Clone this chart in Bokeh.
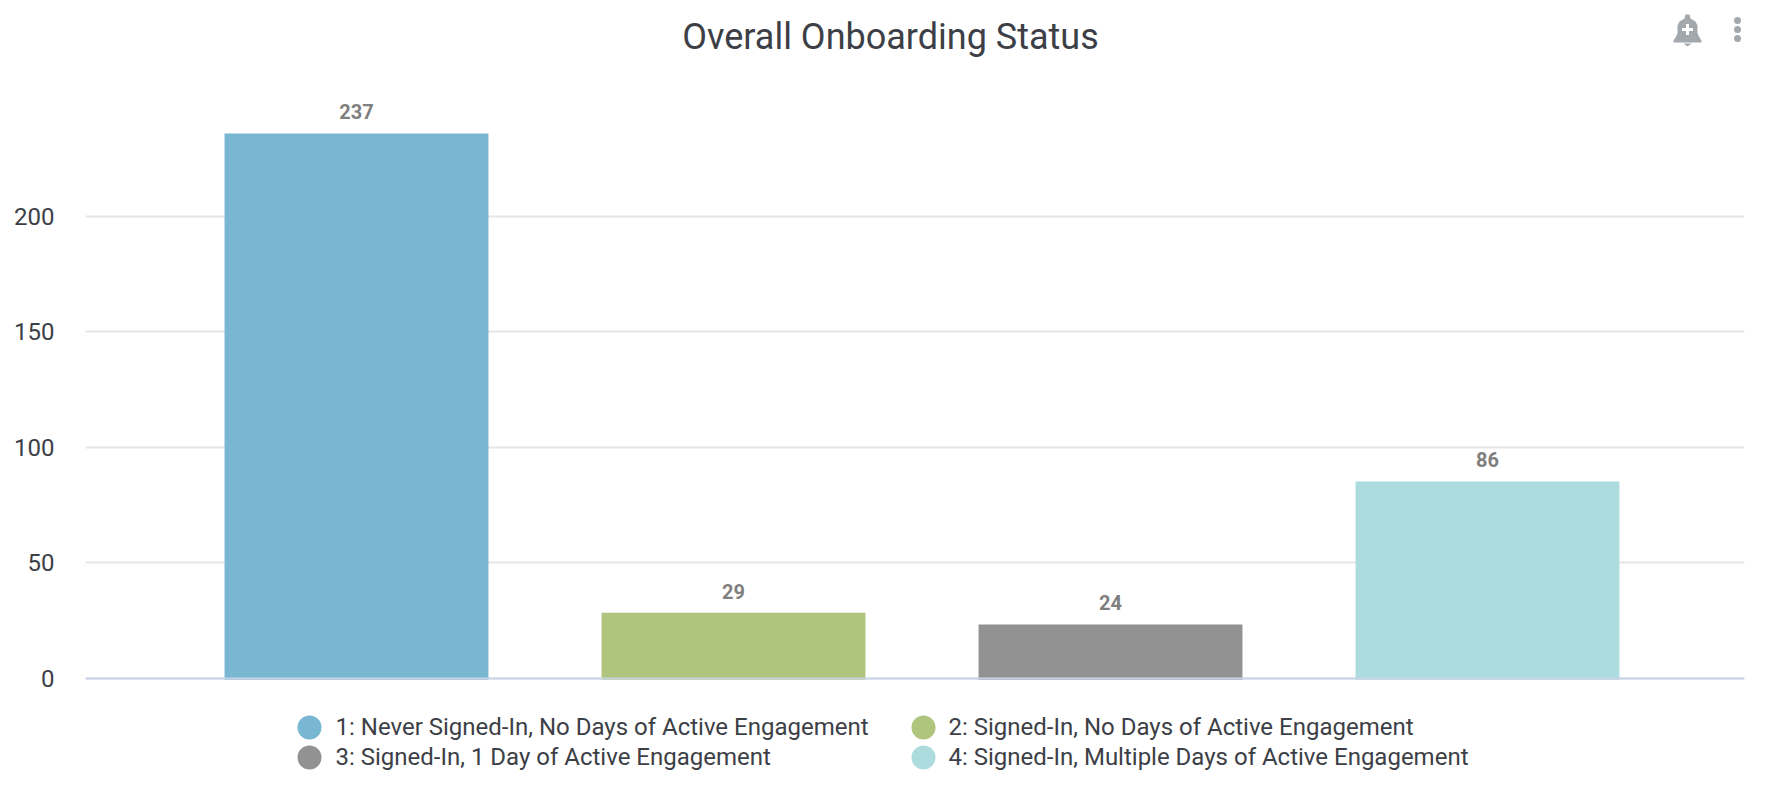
from bokeh.plotting import figure
from bokeh.embed import file_html
from bokeh.resources import INLINE
from bokeh.models import ColumnDataSource, Legend, LegendItem, Span, FixedTicker, Range1d, Label
from bokeh.core.properties import value

title = "Overall Onboarding Status"
categories = ["1: Never Signed-In, No Days of Active Engagement",
              "2: Signed-In, No Days of Active Engagement",
              "3: Signed-In, 1 Day of Active Engagement",
              "4: Signed-In, Multiple Days of Active Engagement"]
values = [237, 29, 24, 86]
colors = ["#78b6d1", "#afc47d", "#929292", "#addcdf"]
y_ticks = [0, 50, 100, 150, 200]
FONT = "Roboto"
TEXT = "#3c4046"
ICON = "#a3a8ad"

p = figure(width=1762, height=788, output_backend="svg", toolbar_location=None,
           x_range=Range1d(-0.7188, 3.6817), y_range=Range1d(-47.62, 293.5),
           frame_width=1659, frame_height=788, min_border_left=85, min_border_right=18,
           min_border_top=0, min_border_bottom=0, outline_line_color=None, background_fill_color="white")
# the bars sit about a pixel lower than the grid in the reference
p.extra_y_ranges["bars"] = Range1d(-47.2, 294.66)
# page-pixel ranges for the decorations (legend dots, menu icons)
p.extra_x_ranges["px"] = Range1d(85, 1744)
p.extra_y_ranges["px"] = Range1d(788, 0)

p.xaxis.visible = False
p.xgrid.visible = False
p.ygrid.grid_line_color = "#e6e6e6"
p.ygrid.grid_line_width = 2
p.yaxis.ticker = FixedTicker(ticks=y_ticks)
p.yaxis.axis_line_color = None
p.yaxis.major_tick_line_color = None
p.yaxis.major_tick_out = 0
p.yaxis.major_tick_in = 0
p.yaxis.minor_tick_line_color = None
p.yaxis.major_label_text_font = FONT
p.yaxis.major_label_text_font_size = "24px"
p.yaxis.major_label_text_color = TEXT
p.yaxis.major_label_standoff = 31

xs = list(range(len(values)))
src = ColumnDataSource(dict(x=xs, top=values, color=colors, label=[str(v) for v in values]))
p.vbar(x="x", top="top", bottom=0, width=0.7, fill_color="color", line_color=None, source=src,
       y_range_name="bars")
p.add_layout(Span(location=0, dimension="width", line_color="#c8d3e6", line_width=2))
p.text(x="x", y="top", text="label", source=src, text_align="center", text_baseline="bottom",
       y_offset=-14, text_font=value(FONT), text_font_size="20px", text_font_style="bold",
       text_color="#7f7f7f", y_range_name="bars")

p.add_layout(Label(x=890, y=36, x_range_name="px", y_range_name="px", text=title, text_align="center",
                   text_baseline="middle", text_font=FONT, text_font_size="36px", text_color=TEXT))

# legend: Bokeh sizes marker keys from the row height, so the labels come from the Legend
# and the larger dots are drawn beside them
items_by_category = []
for c in categories:
    r = p.line(x=[float("nan"), float("nan")], y=[float("nan"), float("nan")], line_alpha=0)
    items_by_category.append(LegendItem(label=c, renderers=[r]))
# Bokeh fills the legend column by column; the reference reads row by row
items = [items_by_category[i] for i in (0, 2, 1, 3)]
legend = Legend(items=items, ncols=2, location=(223.5, 16), border_line_color=None, background_fill_alpha=0,
                label_text_font=FONT, label_text_font_size="24px", label_text_color=TEXT,
                glyph_width=1, glyph_height=30, label_height=30, label_width=586, spacing=0,
                padding=0, margin=0, label_standoff=26)
p.add_layout(legend, "center")
p.scatter([309, 923, 309, 923], [727, 727, 757, 757], size=24, marker="circle", fill_color=colors,
          line_color=None, x_range_name="px", y_range_name="px")

# menu icons
bell_x = [1684, 1685, 1689, 1690, 1690, 1695, 1697, 1697, 1699, 1701, 1701, 1673, 1673, 1675, 1677, 1677, 1679, 1684]
bell_y = [18, 14, 14, 18, 18, 21, 25, 33, 37, 40, 42, 42, 40, 37, 33, 25, 21, 18]
p.patch(bell_x, bell_y, x_range_name="px", y_range_name="px", fill_color=ICON, line_color=None)
p.patch([1683, 1691, 1687], [43, 43, 46], x_range_name="px", y_range_name="px", fill_color=ICON, line_color=None)
p.rect([1687, 1687], [29, 29], [11, 3], [3, 11], x_range_name="px", y_range_name="px", fill_color="white", line_color=None)
p.scatter([1737, 1737, 1737], [20, 29, 38], size=7, x_range_name="px", y_range_name="px", fill_color=ICON, line_color=None)

open("out.html", "w").write(file_html(p, INLINE))
